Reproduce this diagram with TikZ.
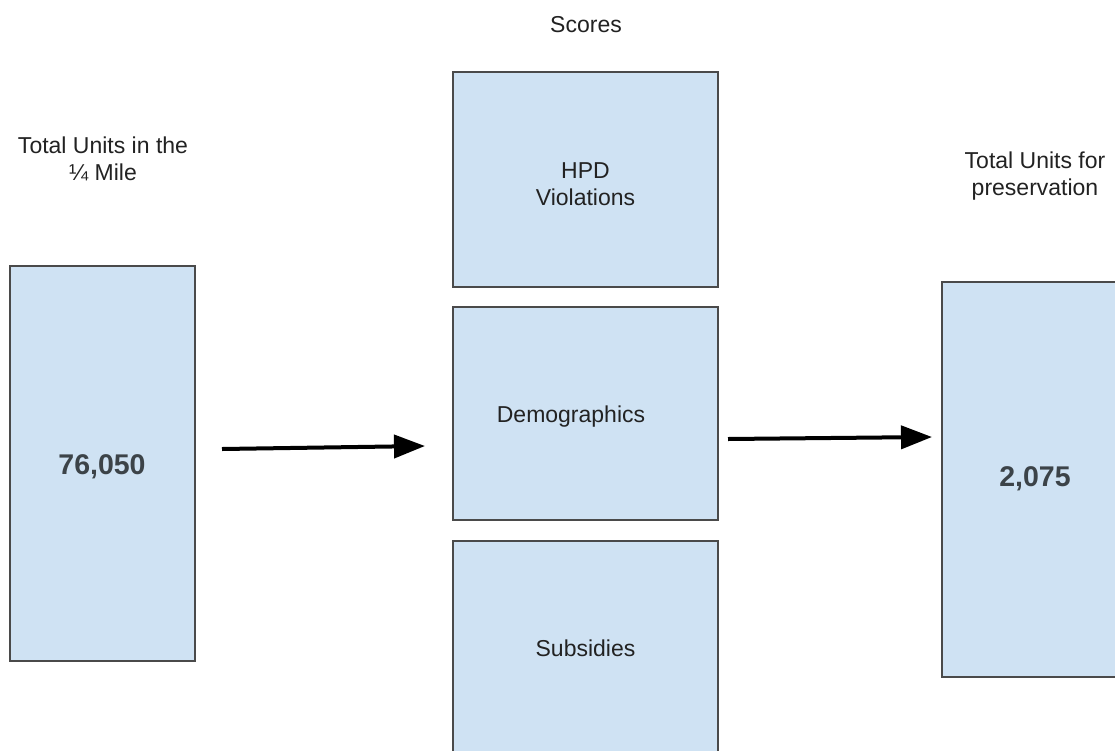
\documentclass[tikz,border=0pt]{standalone}
\usepackage{fontspec}
\setmainfont{Liberation Sans}
\usetikzlibrary{arrows.meta}
\definecolor{boxfill}{HTML}{CFE2F3}
\definecolor{boxline}{HTML}{4A4A4A}
\definecolor{txt}{HTML}{222222}
\definecolor{numtxt}{HTML}{3C4348}
\tikzset{
  box/.style={draw=boxline, line width=1.3pt, fill=boxfill, inner sep=0pt, text=txt,
              font=\fontsize{23}{27}\selectfont, align=center},
  lbl/.style={inner sep=0pt, text=txt, font=\fontsize{23}{27}\selectfont, align=center},
  num/.style={font=\fontsize{28.5}{32}\selectfont\bfseries, text=numtxt},
  arr/.style={line width=4pt, -{Triangle[length=31pt,width=23pt]}}
}
\begin{document}
\begin{tikzpicture}[x=1pt,y=-1pt]
\useasboundingbox (0,0) rectangle (1115,750);
\clip (0,0) rectangle (1115,750);
\fill[white] (0,0) rectangle (1115,750);
% boxes
\node[box, minimum width=185pt, minimum height=395pt] (left) at (102.5,463.5) {};
\node[num] (leftnum) at (102,467) {76,050};
\node[box, minimum width=265pt, minimum height=215pt] (hpd) at (585.5,179.5) {};
\node[lbl] (hpdtxt) at (585.5,184) {HPD\\Violations};
\node[box, minimum width=265pt, minimum height=213pt] (demo) at (585.5,413.5) {};
\node[lbl] (demotxt) at (571,417) {Demographics};
\node[box, minimum width=265pt, minimum height=214pt] (subs) at (585.5,648) {Subsidies};
\node[box, minimum width=185pt, minimum height=395pt] (right) at (1034.5,479.5) {};
\node[num] (rightnum) at (1035,479) {2,075};
% labels
\node[lbl] (scores) at (586,25) {Scores};
\node[lbl] (leftlbl) at (103,159) {Total Units in the\\¼ Mile};
\node[lbl] (rightlbl) at (1035,176) {Total Units for\\preservation};
% arrows
\coordinate (a1s) at (222,449);
\coordinate (a1e) at (425,446);
\coordinate (a2s) at (728,439);
\coordinate (a2e) at (932,437);
\draw[arr] (a1s) -- (a1e);
\draw[arr] (a2s) -- (a2e);
\end{tikzpicture}
\end{document}
